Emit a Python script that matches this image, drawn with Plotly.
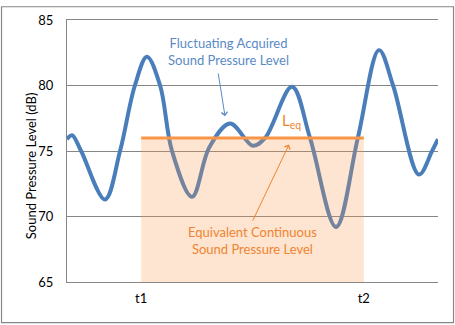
import plotly.graph_objects as go

# Time axis runs 0..100, measurement window from t1 to t2
time_pts = [0, 1.35, 3.8, 10.24, 14.3, 18.3, 21.56, 25.1, 28.3, 33.69, 38.4, 43.94,
            50.13, 53.4, 60.65, 65.5, 72.51, 78.4, 84.1, 87.9, 94.88, 98.4, 100]
spl_db = [75.9, 76.2, 75.0, 71.3, 75.0, 80.0, 82.2, 80.0, 75.0, 71.5, 75.3, 77.1,
          75.4, 76.0, 79.9, 76.0, 69.2, 76.0, 82.7, 80.0, 73.2, 75.0, 75.9]

t1, t2 = 20, 80
leq_db = 76
y_min, y_max = 65, 85
y_ticks = [65, 70, 75, 80, 85]
x_tick_vals = [t1, t2]
x_tick_text = ["t1", "t2"]

FONT = "Lato"
BLUE = "#4A7EBB"
ORANGE = "#F79646"
ORANGE_TXT = "#F0842F"
GRID = "#868686"

fig = go.Figure()

# fluctuating level
fig.add_trace(go.Scatter(
    x=time_pts, y=spl_db, mode="lines",
    line=dict(color=BLUE, width=4, shape="spline", smoothing=1.0),
    hoverinfo="skip", showlegend=False))

# translucent area under Leq across the window
fig.add_trace(go.Scatter(
    x=[t1, t2, t2, t1, t1], y=[y_min, y_min, leq_db, leq_db, y_min],
    mode="none", fill="toself", fillcolor="rgba(247,150,70,0.25)",
    hoverinfo="skip", showlegend=False))

# Leq line
fig.add_trace(go.Scatter(
    x=[t1, t2], y=[leq_db, leq_db], mode="lines",
    line=dict(color=ORANGE, width=3),
    hoverinfo="skip", showlegend=False))

annotations = [
    dict(text="Fluctuating Acquired<br>Sound Pressure Level", x=43.4, y=82.6,
         xref="x", yref="y", showarrow=False,
         font=dict(family=FONT, size=13, color="#5A8AC6")),
    dict(text="", x=42.6, y=77.66, ax=40.7, ay=81.03, xref="x", yref="y",
         axref="x", ayref="y", showarrow=True, arrowhead=4, arrowsize=1.2,
         arrowwidth=1, arrowcolor="#5A8AC6"),
    dict(text="Equivalent Continuous<br>Sound Pressure Level", x=49.87, y=68.18,
         xref="x", yref="y", showarrow=False,
         font=dict(family=FONT, size=13, color=ORANGE_TXT)),
    dict(text="", x=59.84, y=75.49, ax=49.87, ay=69.57, xref="x", yref="y",
         axref="x", ayref="y", showarrow=True, arrowhead=4, arrowsize=1.2,
         arrowwidth=1, arrowcolor=ORANGE_TXT),
    dict(text="L<sub>eq</sub>", x=57.4, y=77.3, xref="x", yref="y",
         xanchor="left", yanchor="middle", showarrow=False,
         font=dict(family=FONT, size=15, color=ORANGE_TXT)),
    dict(text="Sound Pressure Level (dB)", x=-0.122, y=0.445, xref="paper",
         yref="paper", textangle=-90, showarrow=False,
         font=dict(family=FONT, size=13, color="#000000")),
]

fig.update_layout(
    width=455, height=325,
    margin=dict(l=67, r=17, t=15, b=43),
    paper_bgcolor="white", plot_bgcolor="white",
    font=dict(family=FONT, size=13, color="#000000"),
    showlegend=False,
    annotations=annotations,
    shapes=[dict(type="rect", xref="paper", yref="paper",
                 x0=-0.1765, x1=1.0418, y0=-0.1554, y1=1.0506,
                 line=dict(color=GRID, width=1.2), fillcolor="rgba(0,0,0,0)",
                 layer="below")],
)
fig.update_xaxes(range=[0, 100], tickvals=x_tick_vals, ticktext=x_tick_text,
                 showgrid=False, zeroline=False, showline=True, linecolor=GRID,
                 linewidth=1, mirror=True, ticks="", ticklabelstandoff=4,
                 tickfont=dict(family=FONT, size=13, color="#000000"))
fig.update_yaxes(range=[y_min, y_max], tickvals=y_ticks, showgrid=True,
                 gridcolor=GRID, gridwidth=1, zeroline=False, showline=True,
                 linecolor=GRID, linewidth=1, ticks="", ticklabelstandoff=10,
                 tickfont=dict(family=FONT, size=13, color="#000000"))

fig.write_html("out.html")
